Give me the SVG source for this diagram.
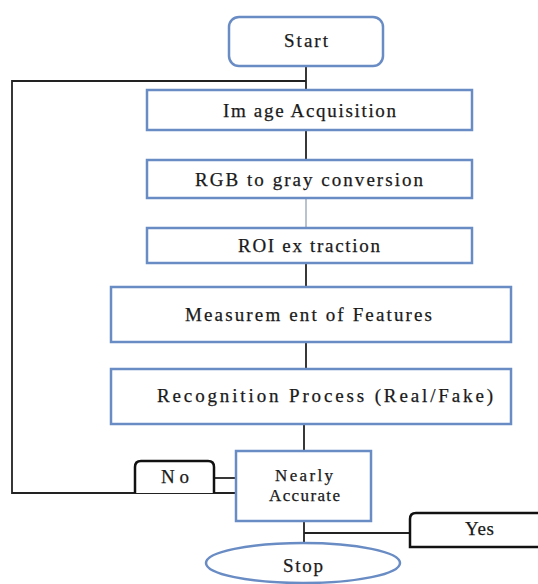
<svg xmlns="http://www.w3.org/2000/svg" width="538" height="584" viewBox="0 0 538 584">
  <style>
    .box { fill: #ffffff; stroke: #6a8cc4; stroke-width: 2.5; }
    .tag { fill: #ffffff; stroke: #111111; stroke-width: 2.5; }
    .wire { fill: none; stroke: #222222; stroke-width: 1.8; }
    .faint { fill: none; stroke: #8a9ab0; stroke-width: 1.2; }
    text { font-family: "Liberation Serif", "Times New Roman", serif; font-size: 19px; fill: #1a1a1a; stroke: #1a1a1a; stroke-width: 0.25; }
    .small { font-size: 17px; }
  </style>
  <rect width="538" height="584" fill="#ffffff"/>

  <!-- connectors -->
  <g id="connectors">
    <line class="wire" x1="306" y1="66" x2="306" y2="90"/>
    <line class="wire" x1="306" y1="130" x2="306" y2="160"/>
    <line class="faint" x1="306" y1="198" x2="306" y2="228"/>
    <line class="wire" x1="306" y1="263" x2="306" y2="287"/>
    <line class="wire" x1="306" y1="342" x2="306" y2="369"/>
    <line class="wire" x1="304" y1="424" x2="304" y2="451"/>
    <!-- loop back from the decision to the top -->
    <polyline class="wire" points="236,493 12,493 12,81 306,81"/>
    <line class="wire" x1="214" y1="478" x2="236" y2="478"/>
    <line class="wire" x1="304" y1="521" x2="304" y2="543"/>
    <line class="wire" x1="304" y1="533" x2="410" y2="533"/>
  </g>

  <g id="start">
    <rect class="box" x="229" y="17" width="154" height="49" rx="10"/>
    <text x="284" y="47" textLength="44" lengthAdjust="spacing">Start</text>
  </g>

  <g id="acquisition">
    <rect class="box" x="147" y="90" width="325" height="40"/>
    <text x="223" y="117" textLength="173" lengthAdjust="spacing">Im age Acquisition</text>
  </g>

  <g id="grayscale">
    <rect class="box" x="147" y="160" width="325" height="38"/>
    <text x="195" y="186" textLength="228" lengthAdjust="spacing">RGB to gray conversion</text>
  </g>

  <g id="roi">
    <rect class="box" x="147" y="228" width="325" height="35"/>
    <text x="238" y="252" textLength="142" lengthAdjust="spacing">ROI ex traction</text>
  </g>

  <g id="features">
    <rect class="box" x="111" y="287" width="400" height="55"/>
    <text x="185" y="321" textLength="247" lengthAdjust="spacing">Measurem ent of Features</text>
  </g>

  <g id="recognition">
    <rect class="box" x="111" y="369" width="400" height="55"/>
    <text x="157" y="402" textLength="336" lengthAdjust="spacing">Recognition Process (Real/Fake)</text>
  </g>

  <g id="decision">
    <rect class="box" x="236" y="451" width="135" height="70"/>
    <text class="small" x="275" y="481" textLength="58" lengthAdjust="spacing">Nearly</text>
    <text class="small" x="269" y="501" textLength="71" lengthAdjust="spacing">Accurate</text>
  </g>

  <g id="no-label">
    <path class="tag" d="M135,493 V467 Q135,461 141,461 H208 Q214,461 214,467 V493"/>
    <text x="161" y="483" textLength="28" lengthAdjust="spacing">No</text>
  </g>

  <g id="yes-label">
    <path class="tag" d="M540,513 H416 Q410,513 410,519 V547 H540"/>
    <text x="465" y="535" textLength="29" lengthAdjust="spacing">Yes</text>
  </g>

  <g id="stop">
    <ellipse class="box" cx="303" cy="563" rx="97" ry="20"/>
    <text x="283" y="572" textLength="40" lengthAdjust="spacing">Stop</text>
  </g>
</svg>
